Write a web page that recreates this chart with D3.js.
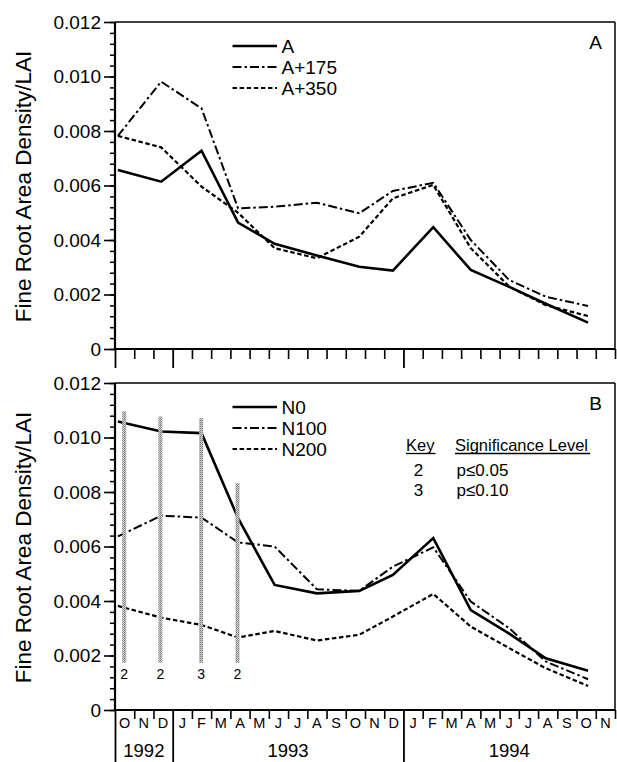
<!DOCTYPE html>
<html><head><meta charset="utf-8">
<script src="https://cdn.jsdelivr.net/npm/d3@7"></script>
<style>
body{margin:0;background:#fff}
svg{display:block}
text{font-family:"Liberation Sans",Arial,Helvetica,sans-serif;fill:#000}
</style>
</head><body>
<svg id="c" width="617" height="762"></svg>
<script>
// ---- data ----
// sampling dates, in months since 1 Oct 1992
const sampleMonths = [0.15, 2.4, 4.5, 6.4, 8.3, 10.5, 12.7, 14.45, 16.55, 18.5, 20.5, 22.4, 24.6];

// Panel A
const seriesA    = [0.00657, 0.00614, 0.00728, 0.00464, 0.00386, 0.00343, 0.00302, 0.00288, 0.00447, 0.00290, 0.00228, 0.00166, 0.00097];
const seriesA175 = [0.00782, 0.00981, 0.00883, 0.00516, 0.00522, 0.00537, 0.00498, 0.00580, 0.00610, 0.00400, 0.00253, 0.00192, 0.00158];
const seriesA350 = [0.00782, 0.00740, 0.00596, 0.00500, 0.00370, 0.00333, 0.00412, 0.00553, 0.00602, 0.00370, 0.00229, 0.00161, 0.00121];
const legendA = ["A", "A+175", "A+350"];

// Panel B
const seriesN0   = [0.01059, 0.01022, 0.01016, 0.00704, 0.00459, 0.00428, 0.00437, 0.00496, 0.00631, 0.00367, 0.00280, 0.00190, 0.00144];
const seriesN100 = [0.00637, 0.00713, 0.00706, 0.00615, 0.00600, 0.00443, 0.00437, 0.00526, 0.00597, 0.00398, 0.00300, 0.00178, 0.00113];
const seriesN200 = [0.00382, 0.00339, 0.00312, 0.00266, 0.00290, 0.00255, 0.00276, 0.00343, 0.00426, 0.00306, 0.00227, 0.00153, 0.00088];
const legendB = ["N0", "N100", "N200"];

// significance bars (panel B)
const sigMonths = [0.48, 2.36, 4.48, 6.37];
const sigTops   = [0.01096, 0.01077, 0.01071, 0.00833];
const sigBottom = 0.00173;
const sigKeys   = ["2", "2", "3", "2"];
const keyCodes  = ["2", "3"];
const keyLevels = ["p\u22640.05", "p\u22640.10"];

// axes
const yTicks = [0, 0.002, 0.004, 0.006, 0.008, 0.010, 0.012];
const yTickLabels = ["0", "0.002", "0.004", "0.006", "0.008", "0.010", "0.012"];
const monthLabels = ["O","N","D","J","F","M","A","M","J","J","A","S","O","N","D","J","F","M","A","M","J","J","A","S","O","N"];
const yearLabels = ["1992", "1993", "1994"];
const yearStarts = [0, 3, 15, 26];
const yTitle = "Fine Root Area Density/LAI";

// ---- drawing ----
const svg = d3.select("#c");
const L = 115, R = 615;
const x = d3.scaleLinear().domain([0, 26]).range([L, R]);

const defs = svg.append("defs");
const pat = defs.append("pattern").attr("id", "hatch").attr("patternUnits", "userSpaceOnUse")
  .attr("width", 2).attr("height", 2);
pat.append("rect").attr("width", 2).attr("height", 2).attr("fill", "#cfcfcf");
pat.append("rect").attr("width", 1).attr("height", 1).attr("fill", "#7a7a7a");
pat.append("rect").attr("x", 1).attr("y", 1).attr("width", 1).attr("height", 1).attr("fill", "#999");

const styles = [
  {w: 2.6, dash: null},
  {w: 2.0, dash: "9,3,2.5,3"},
  {w: 2.2, dash: "4.5,2.6"}
];

function panel(top, bottom, seriesList, legendLabels, letter, showLabels) {
  const y = d3.scaleLinear().domain([0, 0.012]).range([bottom, top]);
  const g = svg.append("g");

  // frame top & right
  g.append("line").attr("x1", L).attr("x2", R).attr("y1", top).attr("y2", top)
    .attr("stroke", "#000").attr("stroke-width", 1.5);
  g.append("line").attr("x1", R).attr("x2", R).attr("y1", top).attr("y2", bottom)
    .attr("stroke", "#000").attr("stroke-width", 1.5);

  // y axis: minor ticks
  const minor = d3.range(0, 31).map(i => i * 0.0004);
  g.append("g").attr("transform", `translate(${L},0)`)
    .call(d3.axisLeft(y).tickValues(minor).tickSize(5).tickFormat(""))
    .call(a => a.select(".domain").remove())
    .selectAll("line").attr("stroke-width", 1.5);
  // y axis: major ticks + labels
  const ya = g.append("g").attr("transform", `translate(${L},0)`)
    .call(d3.axisLeft(y).tickValues(yTicks).tickSize(11).tickPadding(3)
      .tickFormat((d, i) => yTickLabels[i]));
  ya.select(".domain").attr("stroke-width", 2.2).attr("d", `M0,${top}V${bottom}`);
  ya.selectAll("line").attr("stroke-width", 1.6);
  ya.selectAll("text").attr("font-size", 19).attr("font-family", '"Liberation Sans",Arial,sans-serif');

  // x axis: month ticks
  const monthTicks = d3.range(0, 27).filter(m => !yearStarts.includes(m) || m === 26);
  const xa = g.append("g").attr("transform", `translate(0,${bottom})`)
    .call(d3.axisBottom(x).tickValues(monthTicks).tickSize(showLabels ? 9 : 10).tickFormat(""));
  xa.select(".domain").attr("stroke-width", 2.2).attr("d", `M${L},0H${R}`);
  xa.selectAll("line").attr("stroke-width", 1.6);
  // year dividers (longer)
  const dividerLen = showLabels ? 52 : 19;
  g.append("g").attr("transform", `translate(0,${bottom})`)
    .call(d3.axisBottom(x).tickValues(yearStarts.slice(0, 3)).tickSize(dividerLen).tickFormat(""))
    .call(a => a.select(".domain").remove())
    .selectAll("line").attr("stroke-width", 1.8);

  if (showLabels) {
    g.append("g").selectAll("text").data(monthLabels).join("text")
      .attr("x", (d, i) => x(i + 0.5)).attr("y", bottom + 17.5)
      .attr("text-anchor", "middle").attr("font-size", 14.5).text(d => d);
    g.append("g").selectAll("text").data(yearLabels).join("text")
      .attr("x", (d, i) => x((yearStarts[i] + yearStarts[i + 1]) / 2)).attr("y", bottom + 47)
      .attr("text-anchor", "middle").attr("font-size", 18.5).text(d => d);
  }

  // y title
  g.append("text").attr("transform", `translate(31,${(top + bottom) / 2 + 1}) rotate(-90)`)
    .attr("text-anchor", "middle").attr("font-size", 22.5).text(yTitle);

  // panel letter
  g.append("text").attr("x", 602).attr("y", top + 26.5).attr("text-anchor", "end")
    .attr("font-size", 19).text(letter);

  // lines
  const line = d3.line().x((d, i) => x(sampleMonths[i])).y(d => y(d));
  seriesList.forEach((s, k) => {
    g.append("path").datum(s).attr("d", line).attr("fill", "none")
      .attr("stroke", "#000").attr("stroke-width", styles[k].w)
      .attr("stroke-dasharray", styles[k].dash).attr("stroke-linejoin", "miter");
  });

  // legend
  const lg = g.append("g");
  legendLabels.forEach((lab, k) => {
    const yy = top + 24 + k * 21;
    lg.append("line").attr("x1", 232.5).attr("x2", 277).attr("y1", yy).attr("y2", yy)
      .attr("stroke", "#000").attr("stroke-width", styles[k].w)
      .attr("stroke-dasharray", styles[k].dash);
    lg.append("text").attr("x", 281.5).attr("y", yy + 7).attr("font-size", 19).text(lab);
  });
  return y;
}

panel(22, 349, [seriesA, seriesA175, seriesA350], legendA, "A", false);
const yB = panel(383, 710, [seriesN0, seriesN100, seriesN200], legendB, "B", true);

// significance bars
const sb = svg.append("g");
sb.selectAll("rect").data(sigMonths).join("rect")
  .attr("x", d => x(d) - 2).attr("width", 4)
  .attr("y", (d, i) => yB(sigTops[i]))
  .attr("height", (d, i) => yB(sigBottom) - yB(sigTops[i]))
  .attr("fill", "url(#hatch)");
sb.selectAll("text").data(sigKeys).join("text")
  .attr("x", (d, i) => x(sigMonths[i])).attr("y", 679)
  .attr("text-anchor", "middle").attr("font-size", 14).text(d => d);

// key table
const kt = svg.append("g");
kt.append("text").attr("x", 406).attr("y", 451).attr("font-size", 16.5).text("Key");
kt.append("text").attr("x", 455).attr("y", 451).attr("font-size", 16.5).text("Significance Level");
kt.append("line").attr("x1", 406).attr("x2", 435.5).attr("y1", 453.5).attr("y2", 453.5).attr("stroke", "#000").attr("stroke-width", 1.3);
kt.append("line").attr("x1", 455).attr("x2", 590).attr("y1", 453.5).attr("y2", 453.5).attr("stroke", "#000").attr("stroke-width", 1.3);
keyCodes.forEach((c, i) => {
  kt.append("text").attr("x", 418.5).attr("y", 476 + i * 19.5).attr("text-anchor", "middle").attr("font-size", 17).text(c);
  kt.append("text").attr("x", 456.5).attr("y", 476 + i * 19.5).attr("font-size", 17).text(keyLevels[i]);
});
</script>
</body></html>
